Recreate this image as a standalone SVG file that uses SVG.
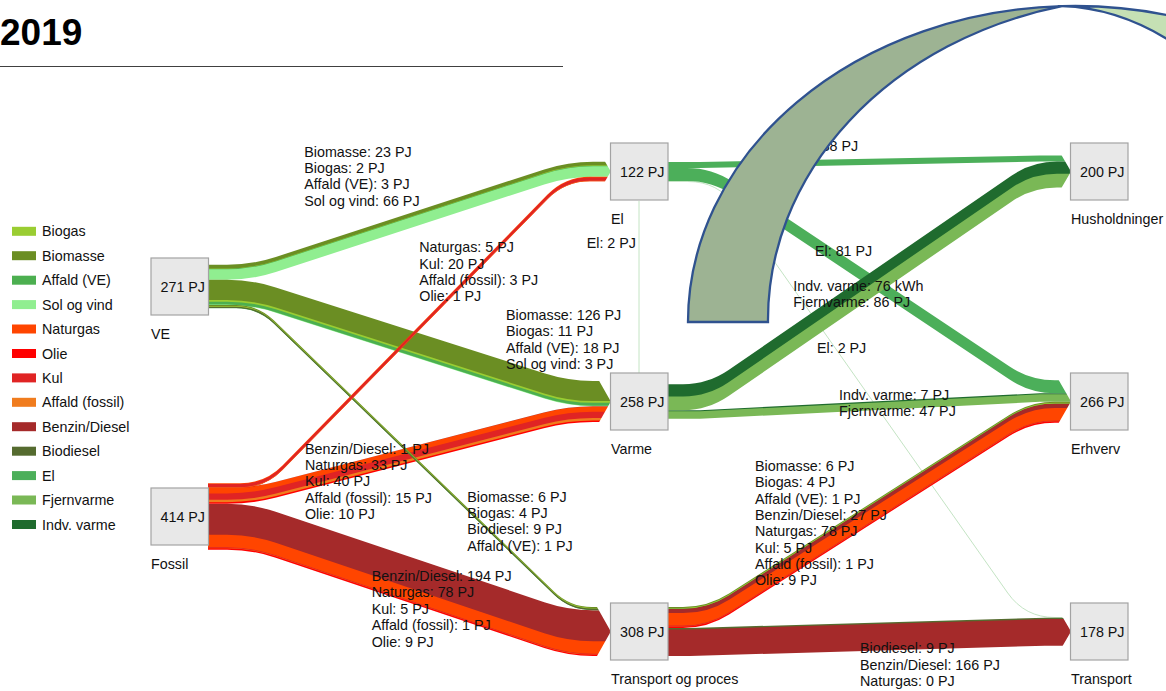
<svg xmlns="http://www.w3.org/2000/svg" xmlns:xlink="http://www.w3.org/1999/xlink" width="1166" height="691" viewBox="0 0 1166 691">
<style>
  text { font-family: "Liberation Sans", Arial, sans-serif; font-size: 14.3px; fill: #111; }
  .title { font-size: 37px; font-weight: bold; fill: #000; }
  .box { fill: #e8e8e8; stroke: #a3a3a3; stroke-width: 1.2; }
  .val { text-anchor: end; }
  .thin { fill: none; stroke: #c4e4c4; stroke-width: 1; }
  .arc { stroke: #2f528f; stroke-width: 2.3; stroke-linejoin: miter; }
</style>
<defs>
  <!-- top edges of each flow, closed upwards; bands are the gaps between shifted copies -->
  <path id="p1" d="M208,264.74H227Q252,264.74 275.77,256.99L544.23,169.41Q568,161.66 593,161.66H611V-20H208Z"/>
  <path id="p2" d="M208,279.78H227Q252,279.78 275.81,287.4L544.19,373.32Q568,380.94 593,380.94H611V-20H208Z"/>
  <path id="p3" d="M208,305.06H236Q258,305.06 273.81,320.36L554.19,591.64Q570,606.94 592,606.94H611V-20H208Z"/>
  <path id="p4" d="M208,483.3H240Q265,483.3 282.48,465.43L547.52,194.57Q565,176.7 590,176.7H611V-20H208Z"/>
  <path id="p5" d="M208,487.94H227Q252,487.94 276.2,481.68L543.8,412.48Q568,406.22 593,406.22H611V-20H208Z"/>
  <path id="p6" d="M208,503.78H227Q252,503.78 275.69,511.76L544.31,602.16Q568,610.14 593,610.14H611V-20H208Z"/>
  <path id="p9" d="M668,384.22H683Q708,384.22 728.6,370.06L1011.4,175.74Q1032,161.58 1057,161.58H1071V-20H668Z"/>
  <path id="p10" d="M668,410.14H700L1040,393.18H1071V-20H668Z"/>
  <path id="p11" d="M668,607.02H683Q708,607.02 729.08,593.58L1008.92,415.26Q1030,401.82 1055,401.82H1071V-20H668Z"/>
  <path id="p12" d="M668,627.98H690L1045,617.66H1071V-20H668Z"/>

  <mask id="m1" maskUnits="userSpaceOnUse" x="0" y="-50" width="1200" height="800"><rect x="0" y="-50" width="1200" height="800" fill="#fff"/><use href="#p1" fill="#000"/></mask>
  <mask id="m2" maskUnits="userSpaceOnUse" x="0" y="-50" width="1200" height="800"><rect x="0" y="-50" width="1200" height="800" fill="#fff"/><use href="#p2" fill="#000"/></mask>
  <mask id="m3" maskUnits="userSpaceOnUse" x="0" y="-50" width="1200" height="800"><rect x="0" y="-50" width="1200" height="800" fill="#fff"/><use href="#p3" fill="#000"/></mask>
  <mask id="m4" maskUnits="userSpaceOnUse" x="0" y="-50" width="1200" height="800"><rect x="0" y="-50" width="1200" height="800" fill="#fff"/><use href="#p4" fill="#000"/></mask>
  <mask id="m5" maskUnits="userSpaceOnUse" x="0" y="-50" width="1200" height="800"><rect x="0" y="-50" width="1200" height="800" fill="#fff"/><use href="#p5" fill="#000"/></mask>
  <mask id="m6" maskUnits="userSpaceOnUse" x="0" y="-50" width="1200" height="800"><rect x="0" y="-50" width="1200" height="800" fill="#fff"/><use href="#p6" fill="#000"/></mask>
  <mask id="m9" maskUnits="userSpaceOnUse" x="0" y="-50" width="1200" height="800"><rect x="0" y="-50" width="1200" height="800" fill="#fff"/><use href="#p9" fill="#000"/></mask>
  <mask id="m10" maskUnits="userSpaceOnUse" x="0" y="-50" width="1200" height="800"><rect x="0" y="-50" width="1200" height="800" fill="#fff"/><use href="#p10" fill="#000"/></mask>
  <mask id="m11" maskUnits="userSpaceOnUse" x="0" y="-50" width="1200" height="800"><rect x="0" y="-50" width="1200" height="800" fill="#fff"/><use href="#p11" fill="#000"/></mask>
  <mask id="m12" maskUnits="userSpaceOnUse" x="0" y="-50" width="1200" height="800"><rect x="0" y="-50" width="1200" height="800" fill="#fff"/><use href="#p12" fill="#000"/></mask>

  <!-- arrow-tip shapes where flows enter a node -->
  <clipPath id="cEl"><path d="M0,0H605.1V161.66L610.8,171.5L605.1,181.34V691H0Z"/></clipPath>
  <clipPath id="cVarme"><path d="M0,0H599.2V380.94L610.8,401.5L599.2,422.06V691H0Z"/></clipPath>
  <clipPath id="cTop"><path d="M0,0H597V606.94L610.8,631.5L597,656.06V691H0Z"/></clipPath>
  <clipPath id="cHush"><path d="M0,0H1061.7V155.5L1071,171.5L1061.7,187.5V691H0Z"/></clipPath>
  <clipPath id="cErh"><path d="M0,0H1058.8V380.22L1071,401.5L1058.8,422.78V691H0Z"/></clipPath>
  <clipPath id="cTr"><path d="M0,0H1062.7V617.34L1071,631.5L1062.7,645.66V691H0Z"/></clipPath>
</defs>

<rect x="0" y="0" width="1166" height="691" fill="#fff"/>

<text class="title" x="0" y="45">2019</text>
<line x1="0" y1="66.5" x2="563" y2="66.5" stroke="#404040" stroke-width="1.2"/>

<!-- legend -->
<g id="legend">
  <rect x="12" y="226.8" width="24" height="9" fill="#9acd32"/><text x="42" y="236.3">Biogas</text>
  <rect x="12" y="251.2" width="24" height="9" fill="#6b8e23"/><text x="42" y="260.7">Biomasse</text>
  <rect x="12" y="275.7" width="24" height="9" fill="#4caf50"/><text x="42" y="285.2">Affald (VE)</text>
  <rect x="12" y="300.1" width="24" height="9" fill="#90ee90"/><text x="42" y="309.6">Sol og vind</text>
  <rect x="12" y="324.5" width="24" height="9" fill="#ff4500"/><text x="42" y="334">Naturgas</text>
  <rect x="12" y="349" width="24" height="9" fill="#ff0000"/><text x="42" y="358.5">Olie</text>
  <rect x="12" y="373.4" width="24" height="9" fill="#e02424"/><text x="42" y="382.9">Kul</text>
  <rect x="12" y="397.8" width="24" height="9" fill="#f07c1e"/><text x="42" y="407.3">Affald (fossil)</text>
  <rect x="12" y="422.2" width="24" height="9" fill="#a52a2a"/><text x="42" y="431.7">Benzin/Diesel</text>
  <rect x="12" y="446.7" width="24" height="9" fill="#556b2f"/><text x="42" y="456.2">Biodiesel</text>
  <rect x="12" y="471.1" width="24" height="9" fill="#4caf5a"/><text x="42" y="480.6">El</text>
  <rect x="12" y="495.5" width="24" height="9" fill="#7ab856"/><text x="42" y="505">Fjernvarme</text>
  <rect x="12" y="520" width="24" height="9" fill="#1f6b2e"/><text x="42" y="529.5">Indv. varme</text>
</g>

<!-- flows -->
<g id="flows">
  <line class="thin" x1="639" y1="201" x2="639" y2="373"/>
  <path class="thin" d="M668,181.5H688Q718,181.5 735.27,206.03L1007.73,592.97Q1025,617.5 1055,617.5H1062"/>

  <!-- VE -> El -->
  <g clip-path="url(#cEl)"><g mask="url(#m1)">
    <use href="#p1" transform="translate(0,15.04)" fill="#90ee90"/>
    <use href="#p1" transform="translate(0,4.48)" fill="#4caf50"/>
    <use href="#p1" transform="translate(0,4)" fill="#9acd32"/>
    <use href="#p1" transform="translate(0,3.68)" fill="#6b8e23"/>
  </g></g>
  <!-- VE -> Varme -->
  <g clip-path="url(#cVarme)"><g mask="url(#m2)">
    <use href="#p2" transform="translate(0,25.28)" fill="#90ee90"/>
    <use href="#p2" transform="translate(0,24.8)" fill="#4caf50"/>
    <use href="#p2" transform="translate(0,21.92)" fill="#9acd32"/>
    <use href="#p2" transform="translate(0,20.16)" fill="#6b8e23"/>
  </g></g>
  <!-- Fossil -> Transport og proces -->
  <g clip-path="url(#cTop)"><g mask="url(#m6)">
    <use href="#p6" transform="translate(0,45.92)" fill="#ff0000"/>
    <use href="#p6" transform="translate(0,44.48)" fill="#f07c1e"/>
    <use href="#p6" transform="translate(0,44.32)" fill="#e02424"/>
    <use href="#p6" transform="translate(0,43.52)" fill="#ff4500"/>
    <use href="#p6" transform="translate(0,31.04)" fill="#a52a2a"/>
  </g></g>
  <!-- Fossil -> Varme -->
  <g clip-path="url(#cVarme)"><g mask="url(#m5)">
    <use href="#p5" transform="translate(0,15.84)" fill="#ff0000"/>
    <use href="#p5" transform="translate(0,14.24)" fill="#f07c1e"/>
    <use href="#p5" transform="translate(0,11.84)" fill="#e02424"/>
    <use href="#p5" transform="translate(0,5.44)" fill="#ff4500"/>
    <use href="#p5" transform="translate(0,0.16)" fill="#a52a2a"/>
  </g></g>
  <!-- VE -> Transport og proces -->
  <g clip-path="url(#cTop)"><g mask="url(#m3)">
    <use href="#p3" transform="translate(0,3.2)" fill="#4caf50"/>
    <use href="#p3" transform="translate(0,3.04)" fill="#556b2f"/>
    <use href="#p3" transform="translate(0,1.6)" fill="#9acd32"/>
    <use href="#p3" transform="translate(0,0.96)" fill="#6b8e23"/>
  </g></g>
  <!-- Fossil -> El -->
  <g clip-path="url(#cEl)"><g mask="url(#m4)">
    <use href="#p4" transform="translate(0,4.64)" fill="#ff0000"/>
    <use href="#p4" transform="translate(0,4.48)" fill="#f07c1e"/>
    <use href="#p4" transform="translate(0,4)" fill="#e02424"/>
    <use href="#p4" transform="translate(0,0.8)" fill="#ff4500"/>
  </g></g>

  <!-- Transport og proces -> Transport -->
  <g clip-path="url(#cTr)"><g mask="url(#m12)">
    <use href="#p12" transform="translate(0,28)" fill="#a52a2a"/>
    <use href="#p12" transform="translate(0,1.44)" fill="#556b2f"/>
  </g></g>
  <!-- Varme -> Erhverv -->
  <g clip-path="url(#cErh)"><g mask="url(#m10)">
    <use href="#p10" transform="translate(0,8.64)" fill="#7ab856"/>
    <use href="#p10" transform="translate(0,1.12)" fill="#1f6b2e"/>
  </g></g>
  <!-- Transport og proces -> Erhverv -->
  <g clip-path="url(#cErh)"><g mask="url(#m11)">
    <use href="#p11" transform="translate(0,20.96)" fill="#ff0000"/>
    <use href="#p11" transform="translate(0,19.52)" fill="#f07c1e"/>
    <use href="#p11" transform="translate(0,19.36)" fill="#e02424"/>
    <use href="#p11" transform="translate(0,18.56)" fill="#ff4500"/>
    <use href="#p11" transform="translate(0,6.08)" fill="#a52a2a"/>
    <use href="#p11" transform="translate(0,1.76)" fill="#4caf50"/>
    <use href="#p11" transform="translate(0,1.6)" fill="#9acd32"/>
    <use href="#p11" transform="translate(0,0.96)" fill="#6b8e23"/>
  </g></g>
  <!-- El -> Husholdninger -->
  <path clip-path="url(#cHush)" fill="#4caf5a" d="M668,161.98H700L1040,155.5H1071V161.58H1040L700,168.06H668Z"/>
  <!-- El -> Erhverv -->
  <path clip-path="url(#cErh)" fill="#4caf5a" d="M668,168.06H687Q712,168.06 732.8,181.94L1009.2,366.34Q1030,380.22 1055,380.22H1071V393.18H1055Q1030,393.18 1009.2,379.3L732.8,194.9Q712,181.02 687,181.02H668Z"/>
  <!-- Varme -> Husholdninger -->
  <g clip-path="url(#cHush)"><g mask="url(#m9)">
    <use href="#p9" transform="translate(0,25.92)" fill="#7ab856"/>
    <use href="#p9" transform="translate(0,12.16)" fill="#1f6b2e"/>
  </g></g>
</g>

<!-- nodes -->
<g id="node-ve"><rect class="box" x="151" y="258" width="57.5" height="57"/><text class="val" x="205" y="291.5">271 PJ</text><text x="151" y="338.5">VE</text></g>
<g id="node-fossil"><rect class="box" x="151" y="488" width="57.5" height="57"/><text class="val" x="205" y="521.5">414 PJ</text><text x="151" y="568.5">Fossil</text></g>
<g id="node-el"><rect class="box" x="610.5" y="143" width="57.5" height="57"/><text class="val" x="664.5" y="176.5">122 PJ</text><text x="611" y="224">El</text></g>
<g id="node-varme"><rect class="box" x="610.5" y="373" width="57.5" height="57"/><text class="val" x="664.5" y="406.5">258 PJ</text><text x="611" y="453.5">Varme</text></g>
<g id="node-transport-proces"><rect class="box" x="610.5" y="603" width="57.5" height="57"/><text class="val" x="664.5" y="636.5">308 PJ</text><text x="611" y="683.5">Transport og proces</text></g>
<g id="node-husholdninger"><rect class="box" x="1070.5" y="143" width="57.5" height="57"/><text class="val" x="1124.5" y="176.5">200 PJ</text><text x="1071" y="224">Husholdninger</text></g>
<g id="node-erhverv"><rect class="box" x="1070.5" y="373" width="57.5" height="57"/><text class="val" x="1124.5" y="406.5">266 PJ</text><text x="1071" y="453.5">Erhverv</text></g>
<g id="node-transport"><rect class="box" x="1070.5" y="603" width="57.5" height="57"/><text class="val" x="1124.5" y="636.5">178 PJ</text><text x="1071" y="683.5">Transport</text></g>

<!-- flow labels -->
<g id="flow-labels">
  <text x="304.3" y="156.8"><tspan x="304.3">Biomasse: 23 PJ</tspan><tspan x="304.3" dy="16.3">Biogas: 2 PJ</tspan><tspan x="304.3" dy="16.3">Affald (VE): 3 PJ</tspan><tspan x="304.3" dy="16.3">Sol og vind: 66 PJ</tspan></text>
  <text x="419.3" y="252.4"><tspan x="419.3">Naturgas: 5 PJ</tspan><tspan x="419.3" dy="16.3">Kul: 20 PJ</tspan><tspan x="419.3" dy="16.3">Affald (fossil): 3 PJ</tspan><tspan x="419.3" dy="16.3">Olie: 1 PJ</tspan></text>
  <text x="506" y="320"><tspan x="506">Biomasse: 126 PJ</tspan><tspan x="506" dy="16.3">Biogas: 11 PJ</tspan><tspan x="506" dy="16.3">Affald (VE): 18 PJ</tspan><tspan x="506" dy="16.3">Sol og vind: 3 PJ</tspan></text>
  <text x="586.7" y="248.4">El: 2 PJ</text>
  <text x="305" y="453.5"><tspan x="305">Benzin/Diesel: 1 PJ</tspan><tspan x="305" dy="16.35">Naturgas: 33 PJ</tspan><tspan x="305" dy="16.35">Kul: 40 PJ</tspan><tspan x="305" dy="16.35">Affald (fossil): 15 PJ</tspan><tspan x="305" dy="16.35">Olie: 10 PJ</tspan></text>
  <text x="467.3" y="501.8"><tspan x="467.3">Biomasse: 6 PJ</tspan><tspan x="467.3" dy="16.3">Biogas: 4 PJ</tspan><tspan x="467.3" dy="16.3">Biodiesel: 9 PJ</tspan><tspan x="467.3" dy="16.3">Affald (VE): 1 PJ</tspan></text>
  <text x="371.7" y="581.1"><tspan x="371.7">Benzin/Diesel: 194 PJ</tspan><tspan x="371.7" dy="16.35">Naturgas: 78 PJ</tspan><tspan x="371.7" dy="16.35">Kul: 5 PJ</tspan><tspan x="371.7" dy="16.35">Affald (fossil): 1 PJ</tspan><tspan x="371.7" dy="16.35">Olie: 9 PJ</tspan></text>
  <text x="801" y="150.8">El: 38 PJ</text>
  <text x="815" y="255.8">El: 81 PJ</text>
  <text x="793.3" y="290.8"><tspan x="793.3">Indv. varme: 76 kWh</tspan><tspan x="793.3" dy="16.6">Fjernvarme: 86 PJ</tspan></text>
  <text x="817" y="353">El: 2 PJ</text>
  <text x="839" y="400"><tspan x="839">Indv. varme: 7 PJ</tspan><tspan x="839" dy="16.3">Fjernvarme: 47 PJ</tspan></text>
  <text x="755" y="471"><tspan x="755">Biomasse: 6 PJ</tspan><tspan x="755" dy="16.35">Biogas: 4 PJ</tspan><tspan x="755" dy="16.35">Affald (VE): 1 PJ</tspan><tspan x="755" dy="16.35">Benzin/Diesel: 27 PJ</tspan><tspan x="755" dy="16.35">Naturgas: 78 PJ</tspan><tspan x="755" dy="16.35">Kul: 5 PJ</tspan><tspan x="755" dy="16.35">Affald (fossil): 1 PJ</tspan><tspan x="755" dy="16.35">Olie: 9 PJ</tspan></text>
  <text x="860" y="653"><tspan x="860">Biodiesel: 9 PJ</tspan><tspan x="860" dy="16.5">Benzin/Diesel: 166 PJ</tspan><tspan x="860" dy="16.5">Naturgas: 0 PJ</tspan></text>
</g>

<!-- curved band shape overlaid at the top right -->
<g id="arc-shape">
  <path class="arc" fill="#c5e0b4" d="M1062,6.2A387,316 0 0,1 1175,16.7L1175,44Q1120,8 1062,6.2Z"/>
  <path class="arc" fill="#9db393" d="M688,322A387,316 0 0,1 1062,6.2A382,322 0 0,0 768,322Z"/>
</g>
</svg>
